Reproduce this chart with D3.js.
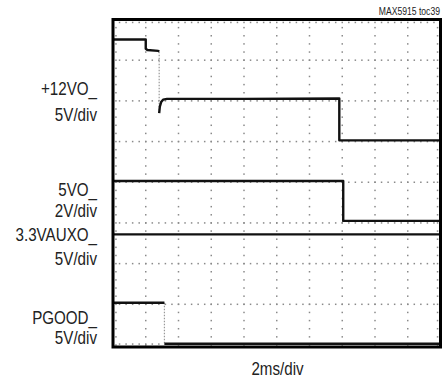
<!DOCTYPE html>
<html>
<head>
<meta charset="utf-8">
<script src="https://cdn.jsdelivr.net/npm/d3@7"></script>
<style>
  html, body { margin: 0; padding: 0; background: #fff; }
  svg { display: block; }
  text { font-family: "Liberation Sans", Arial, sans-serif; fill: #222; }
</style>
</head>
<body>
<svg id="chart" width="446" height="382"></svg>
<script>
// Grid: 10 horizontal divisions (2ms/div), 8 vertical divisions
const xDivs = 10;
const yDivs = 8;
const minorPerDiv = 5;

// Traces: [time in divisions, level in divisions from bottom]
const v12Trace = [[0, 7.51], [1.0, 7.51], [1.0, 7.28], [1.05, 7.25], [1.38, 7.23], [1.41, 7.21]];
const v12Connector = [[1.41, 7.21], [1.41, 5.70]];
const v12Rise = [[1.41, 5.70], [1.43, 5.86], [1.47, 5.97], [1.53, 6.03], [1.65, 6.05], [4.0, 6.05], [6.91, 6.06], [6.91, 5.03], [10, 5.03]];
const v5Trace = [[0, 4.03], [7.03, 4.03], [7.03, 3.05], [10, 3.05]];
const v33Trace = [[0, 2.72], [10, 2.72]];
const pgoodTrace = [[0, 1.04], [1.57, 1.04]];
const pgoodConnector = [[1.57, 1.04], [1.57, 0.03]];
const pgoodLow = [[1.57, 0.03], [10, 0.03]];

const channelLabels = [
  { lines: ["+12VO_", "5V/div"], baselines: [95, 121] },
  { lines: ["5VO_", "2V/div"], baselines: [195.5, 216.5] },
  { lines: ["3.3VAUXO_", "5V/div"], baselines: [241, 264.5] },
  { lines: ["PGOOD_", "5V/div"], baselines: [323.5, 343.5] }
];
const xAxisLabel = "2ms/div";
const figureId = "MAX5915 toc39";

const svg = d3.select("#chart");
const pLeft = 113, pRight = 440.5, pTop = 19.5, pBottom = 345, frameBottom = 347;
const narrow = 0.82;

const x = d3.scaleLinear().domain([0, xDivs]).range([pLeft, pRight]);
const y = d3.scaleLinear().domain([0, yDivs]).range([pBottom, pTop]);

// dotted grid
const dots = svg.append("g").attr("fill", "#8a8a8a");
const minorX = d3.range(0, xDivs * minorPerDiv + 1).map(i => i / minorPerDiv);
const minorY = d3.range(0, yDivs * minorPerDiv + 1).map(i => i / minorPerDiv);
const majorX = d3.range(1, xDivs);
const majorY = d3.range(1, yDivs);
majorY.forEach(gy => {
  dots.selectAll(null).data(minorX).enter().append("rect")
    .attr("x", d => x(d) - 0.75).attr("y", y(gy) - 0.75)
    .attr("width", 1.5).attr("height", 1.5);
});
majorX.forEach(gx => {
  dots.selectAll(null).data(minorY).enter().append("rect")
    .attr("x", x(gx) - 0.75).attr("y", d => y(d) - 0.75)
    .attr("width", 1.5).attr("height", 1.5);
});
// edge tick dots just inside the frame
dots.selectAll(null).data(minorX).enter().append("rect")
  .attr("x", d => x(d) - 0.75).attr("y", pTop + 2.2).attr("width", 1.5).attr("height", 1.5);
dots.selectAll(null).data(minorX).enter().append("rect")
  .attr("x", d => x(d) - 0.75).attr("y", frameBottom - 3.7).attr("width", 1.5).attr("height", 1.5);
dots.selectAll(null).data(minorY).enter().append("rect")
  .attr("x", pLeft + 2.2).attr("y", d => y(d) - 0.75).attr("width", 1.5).attr("height", 1.5);
dots.selectAll(null).data(minorY).enter().append("rect")
  .attr("x", pRight - 3.7).attr("y", d => y(d) - 0.75).attr("width", 1.5).attr("height", 1.5);

const line = d3.line().x(d => x(d[0])).y(d => y(d[1]));

// faint connectors
[v12Connector, pgoodConnector].forEach(seg => {
  svg.append("path").attr("d", line(seg))
    .attr("fill", "none").attr("stroke", "#999").attr("stroke-width", 1.2)
    .attr("stroke-dasharray", "1.5,1.5");
});

// traces
[v12Trace, v12Rise, v5Trace, v33Trace, pgoodTrace, pgoodLow].forEach(tr => {
  svg.append("path").attr("d", line(tr))
    .attr("fill", "none").attr("stroke", "#111").attr("stroke-width", 2.4)
    .attr("stroke-linejoin", "round");
});

// frame
svg.append("rect")
  .attr("x", pLeft).attr("y", pTop)
  .attr("width", pRight - pLeft).attr("height", frameBottom - pTop)
  .attr("fill", "none").attr("stroke", "#000").attr("stroke-width", 3);

// labels (condensed look via horizontal scale)
function label(tx, ty, str, size, anchor) {
  svg.append("text")
    .attr("transform", `translate(${tx},${ty}) scale(${narrow},1)`)
    .attr("text-anchor", anchor).attr("font-size", size).text(str);
}
channelLabels.forEach(ch => {
  ch.lines.forEach((t, i) => label(97, ch.baselines[i], t, 18.5, "end"));
});
label(277.5, 375, xAxisLabel, 18.5, "middle");
label(440, 15, figureId, 10.5, "end");
</script>
</body>
</html>
